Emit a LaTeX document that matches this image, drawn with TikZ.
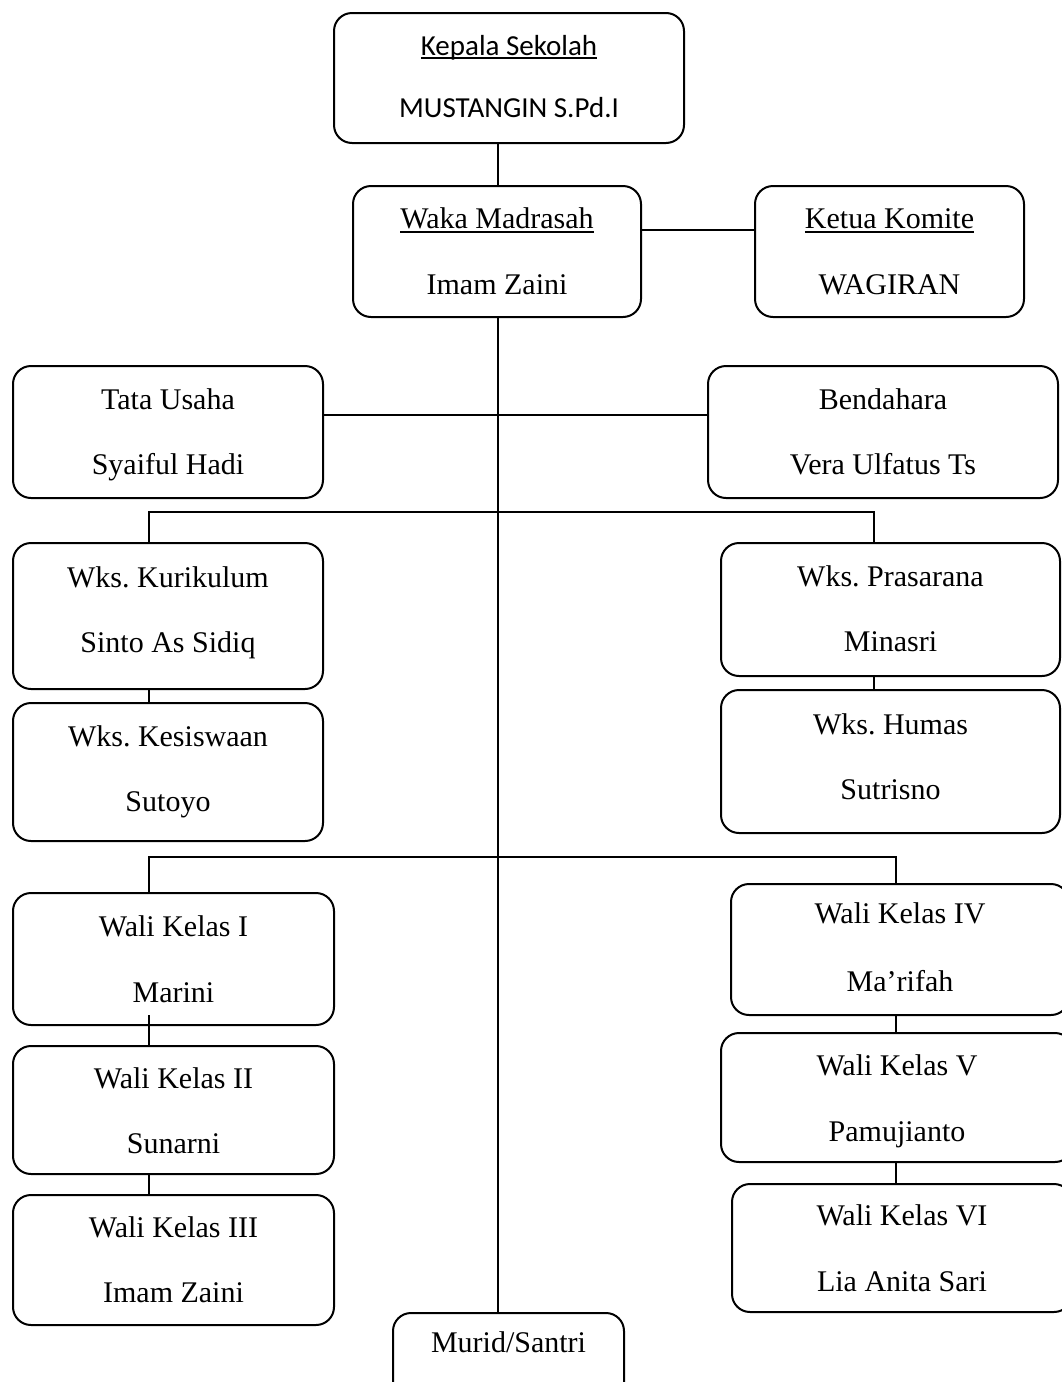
\documentclass[tikz,border=0pt]{standalone}
\usepackage{fontspec}
\setmainfont{Liberation Serif}
\newfontfamily\calibri{Carlito}
\frenchspacing
\newcommand\ulx[1]{\setbox0\hbox{#1}\rlap{\rule[-0.15em]{\wd0}{0.065em}}\box0}
\tikzset{
  box/.style={draw, line width=2pt, rounded corners=18pt, inner sep=0pt, anchor=north west},
  txt/.style={anchor=base, inner sep=0pt, font=\fontsize{30}{35}\selectfont},
  conn/.style={line width=2pt}
}
% name, x1, y1, w, h, text1, baseline1, text2, baseline2
\newcommand\obox[9]{%
  \node[box, minimum width=#4pt, minimum height=#5pt] (#1) at (#2,#3) {};
  \node[txt] (#1-a) at (#1.north |- 0,#7) {#6};
  \node[txt] (#1-b) at (#1.north |- 0,#9) {#8};
}
\begin{document}
\begin{tikzpicture}[x=1pt,y=-1pt]
\useasboundingbox (0,0) rectangle (1062,1382);
\obox{kepala}{333}{12}{350}{130}{{\fontsize{29}{34}\selectfont\calibri\ulx{Kepala Sekolah}}}{55}{{\fontsize{29}{34}\selectfont\calibri MUSTANGIN S.Pd.I}}{117}
\obox{waka}{352}{185}{288}{131}{\ulx{Waka Madrasah}}{228}{Imam Zaini}{294}
\obox{ketua}{754}{185}{269}{131}{\ulx{Ketua Komite}}{228}{WAGIRAN}{294}
\obox{tata}{12}{365}{310}{132}{Tata Usaha}{409}{Syaiful Hadi}{474}
\obox{benda}{707}{365}{350}{132}{Bendahara}{409}{Vera Ulfatus Ts}{474}
\obox{kurik}{12}{542}{310}{146}{Wks. Kurikulum}{587}{Sinto As Sidiq}{652}
\obox{kesis}{12}{702}{310}{138}{Wks. Kesiswaan}{746}{Sutoyo}{811}
\obox{prasa}{720}{542}{339}{133}{Wks. Prasarana}{586}{Minasri}{651}
\obox{humas}{720}{689}{339}{143}{Wks. Humas}{734}{Sutrisno}{799}
\obox{walia}{12}{892}{321}{132}{Wali Kelas I}{936}{Marini}{1002}
\obox{walib}{12}{1045}{321}{128}{Wali Kelas II}{1088}{Sunarni}{1153}
\obox{walic}{12}{1194}{321}{130}{Wali Kelas III}{1237}{Imam Zaini}{1302}
\obox{walid}{730}{883}{338}{131}{Wali Kelas IV}{923}{Ma’rifah}{991}
\obox{walie}{720}{1032}{352}{129}{Wali Kelas V}{1075}{Pamujianto}{1141}
\obox{walif}{731}{1183}{340}{128}{Wali Kelas VI}{1225}{Lia Anita Sari}{1291}
\node[box, minimum width=231pt, minimum height=100pt] (murid) at (392,1312) {};
\node[txt] (murid-a) at (murid.north |- 0,1352) {Murid/Santri};
% helper coordinates
\coordinate (trunk) at (498,0);
\coordinate (kL) at (149,512);
\coordinate (kR) at (874,512);
\coordinate (wL) at (149,857);
\coordinate (wR) at (896,857);
% connectors
\draw[conn] (kepala.south -| trunk) -- (waka.north -| trunk);
\draw[conn] ([yshift=21.5pt]waka.east) -- ([yshift=21.5pt]ketua.west);
\draw[conn] (waka.south -| trunk) -- (murid.north -| trunk);
\draw[conn] ([yshift=17pt]tata.east) -- ([yshift=17pt]benda.west);
\draw[conn] (kurik.north -| kL) -- (kL) -- (kR) -- (prasa.north -| kR);
\draw[conn] (kurik.south -| kL) -- (kesis.north -| kL);
\draw[conn] (prasa.south -| kR) -- (humas.north -| kR);
\draw[conn] (walia.north -| wL) -- (wL) -- (wR) -- (walid.north -| wR);
\draw[conn] ([yshift=11pt]walia.south -| wL) -- (walib.north -| wL);
\draw[conn] (walib.south -| wL) -- (walic.north -| wL);
\draw[conn] (walid.south -| wR) -- (walie.north -| wR);
\draw[conn] (walie.south -| wR) -- (walif.north -| wR);
\end{tikzpicture}
\end{document}
